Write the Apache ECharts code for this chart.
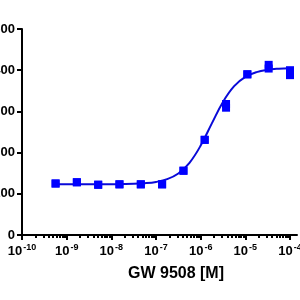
<!DOCTYPE html>
<html>
<head>
<meta charset="utf-8">
<script src="https://cdn.jsdelivr.net/npm/echarts@6/dist/echarts.min.js"></script>
<style>html,body{margin:0;padding:0;background:#fff;}#c{width:300px;height:300px;}</style>
</head>
<body>
<div id="c"></div>
<script>
// Concentrations (M), 3-fold dilution series
var conc = [5.65e-10, 1.69e-9, 5.08e-9, 1.52e-8, 4.57e-8, 1.37e-7, 4.12e-7, 1.23e-6, 3.70e-6, 1.11e-5, 3.33e-5, 1.0e-4];
// Replicate responses
var rep1 = [125, 128, 122, 123, 123, 123, 156, 231, 318, 390, 413, 400];
var rep2 = [125, 128, 122, 123, 123, 123, 156, 231, 309, 390, 404, 388];
// Fitted curve
var curveX = [5.65e-10, 1e-9, 3.16e-9, 1e-8, 3.16e-8, 5.62e-8, 1e-7, 1.78e-7, 3.16e-7, 5.62e-7, 1e-6, 1.78e-6, 3.16e-6, 5.62e-6, 1e-5, 1.78e-5, 3.16e-5, 5.62e-5, 1e-4];
var curveY = [123.0, 123.0, 123.0, 123.3, 124.2, 125.7, 128.9, 135.6, 149.4, 175.2, 217.0, 271.0, 323.0, 361.2, 383.7, 395.4, 401.1, 403.7, 405.0];
var yTicks = [0, 100, 200, 300, 400, 500];
var xName = 'GW 9508 [M]';

var FONT = 'Liberation Sans, Arial, sans-serif';
var blue = '#0000ff';

function pts(xs, ys) { return xs.map(function (x, i) { return [x, ys[i]]; }); }

var chart = echarts.init(document.getElementById('c'), null, {renderer: 'canvas'});
chart.setOption({
  animation: false,
  backgroundColor: '#fff',
  grid: [
    {left: 22, right: 10, top: 29, bottom: 65, containLabel: false, outerBoundsMode: 'none'},
    {left: 22, right: 3, top: 29, bottom: 65, containLabel: false, outerBoundsMode: 'none'}
  ],
  xAxis: [{
    type: 'log', logBase: 10, min: 1e-10, max: 1e-4, gridIndex: 0,
    name: xName, nameLocation: 'middle', nameGap: 31,
    nameTextStyle: {fontFamily: FONT, fontWeight: 'bold', fontSize: 16, color: '#000', padding: [0, 0, 0, 40]},
    axisLine: {show: true, lineStyle: {color: '#000', width: 2}},
    axisTick: {show: true, inside: false, length: 5, lineStyle: {color: '#000', width: 2}},
    minorTick: {show: true, splitNumber: 9, length: 3, lineStyle: {color: '#000', width: 2}},
    splitLine: {show: false},
    minorSplitLine: {show: false},
    axisLabel: {
      margin: 8,
      formatter: function (v) {
        var e = Math.round(Math.log10(v));
        return '{b|10}{s|' + e + '}';
      },
      rich: {
        b: {fontFamily: FONT, fontWeight: 'bold', fontSize: 13, color: '#000', verticalAlign: 'bottom', lineHeight: 15},
        s: {fontFamily: FONT, fontWeight: 'bold', fontSize: 9, color: '#000', verticalAlign: 'top', lineHeight: 15, padding: [0, 0, 6, 1]}
      }
    }
  }, {
    type: 'value', min: 0, max: 1, gridIndex: 1,
    axisLine: {show: true, lineStyle: {color: '#000', width: 2}},
    axisTick: {show: false}, axisLabel: {show: false}, splitLine: {show: false}
  }],
  yAxis: [{
    type: 'value', min: 0, max: 500, interval: 100, gridIndex: 0,
    axisLine: {show: true, lineStyle: {color: '#000', width: 2}},
    axisTick: {show: true, inside: false, length: 5, lineStyle: {color: '#000', width: 2}},
    splitLine: {show: false},
    axisLabel: {
      margin: 7, fontFamily: FONT, fontWeight: 'bold', fontSize: 13, color: '#000',
      formatter: function (v) { return yTicks.indexOf(v) >= 0 ? String(v) : ''; }
    }
  }, {
    type: 'value', min: 0, max: 1, gridIndex: 1, show: false
  }],
  series: [{
    type: 'line', xAxisIndex: 0, yAxisIndex: 0,
    data: pts(curveX, curveY), smooth: 0.4, showSymbol: false, symbol: 'none',
    lineStyle: {color: '#0a0ad8', width: 2}, z: 2
  }, {
    type: 'scatter', xAxisIndex: 0, yAxisIndex: 0,
    data: pts(conc, rep1), symbol: 'rect', symbolSize: 8,
    itemStyle: {color: blue, opacity: 1}, z: 3
  }, {
    type: 'scatter', xAxisIndex: 0, yAxisIndex: 0,
    data: pts(conc, rep2), symbol: 'rect', symbolSize: 8,
    itemStyle: {color: blue, opacity: 1}, z: 3
  }]
});
</script>
</body>
</html>
